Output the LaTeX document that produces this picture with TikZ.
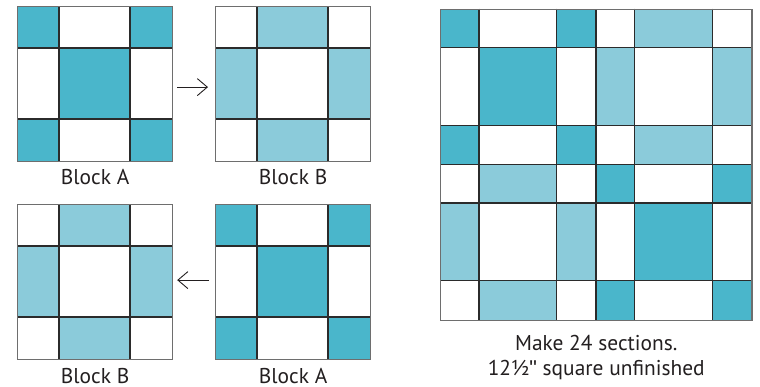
\documentclass[tikz,border=0pt]{standalone}
\usepackage{fontspec}
\setmainfont{PT Sans}[Ligatures=ResetAll]
\usetikzlibrary{arrows.meta}

\definecolor{tealdark}{HTML}{4AB6CB}
\definecolor{teallight}{HTML}{8BCBDA}
\definecolor{seam}{HTML}{2B2B2B}
\definecolor{rim}{HTML}{6E6E6E}
\definecolor{ink}{HTML}{231F20}

\tikzset{
  seamline/.style={draw=seam, line width=1.1bp},
  blockrim/.style={draw=rim, line width=1.2bp},
  lbl/.style={font=\fontsize{21.5}{24}\selectfont, text=ink, inner sep=0pt, anchor=base},
  turnarrow/.style={draw=ink, line width=0.9bp, -{Straight Barb[length=10bp,width=17bp,line width=0.9bp]}},
}

% Nine-patch block: #1 name, (#2,#3) top-left corner, #4 outer strip width,
% #5 middle strip width, #6 corner colour, #7 side colour, #8 centre colour
\newcommand\qblock[8]{%
  \begin{scope}[shift={(#2,#3)}]
    \pgfmathsetmacro\qbA{#4}
    \pgfmathsetmacro\qbB{#4+#5}
    \pgfmathsetmacro\qbC{2*#4+#5}
    % corners
    \fill[#6] (0,0) rectangle (\qbA,\qbA);
    \fill[#6] (\qbB,0) rectangle (\qbC,\qbA);
    \fill[#6] (0,\qbB) rectangle (\qbA,\qbC);
    \fill[#6] (\qbB,\qbB) rectangle (\qbC,\qbC);
    % side strips
    \fill[#7] (\qbA,0) rectangle (\qbB,\qbA);
    \fill[#7] (0,\qbA) rectangle (\qbA,\qbB);
    \fill[#7] (\qbB,\qbA) rectangle (\qbC,\qbB);
    \fill[#7] (\qbA,\qbB) rectangle (\qbB,\qbC);
    % centre square
    \fill[#8] (\qbA,\qbA) rectangle (\qbB,\qbB);
    % seams
    \draw[seamline] (\qbA,0) -- (\qbA,\qbC) (\qbB,0) -- (\qbB,\qbC)
                    (0,\qbA) -- (\qbC,\qbA) (0,\qbB) -- (\qbC,\qbB);
    \node[blockrim, rectangle, inner sep=0pt, minimum size=\qbC bp,
          anchor=north west] (#1) at (0,0) {};
  \end{scope}}

\begin{document}
\begin{tikzpicture}[x=1bp, y=-1bp]
  \fill[white] (0,0) rectangle (760,386);
  \useasboundingbox (0,0) rectangle (760,386);

  % first pair: Block A turned into Block B
  \qblock{blkAtop}{17}{6}{42}{71}{tealdark}{white}{tealdark}
  \qblock{blkBtop}{215}{6}{42}{71}{white}{teallight}{white}
  \node[lbl] (labAtop) at ([yshift=-22.3bp]blkAtop.south) {Block A};
  \node[lbl] (labBtop) at ([yshift=-22.3bp]blkBtop.south) {Block B};
  \draw[turnarrow] ([xshift=4bp,yshift=-3bp]blkAtop.east) -- ([xshift=-7bp,yshift=-3bp]blkBtop.west);

  % second pair: Block A turned into Block B, leftwards
  \qblock{blkBbot}{17}{204}{42}{71}{white}{teallight}{white}
  \qblock{blkAbot}{215}{204}{42}{71}{tealdark}{white}{tealdark}
  \node[lbl] (labBbot) at ([yshift=-23bp]blkBbot.south) {Block B};
  \node[lbl] (labAbot) at ([yshift=-23bp]blkAbot.south) {Block A};
  \draw[turnarrow] ([xshift=-6bp,yshift=2bp]blkAbot.west) -- ([xshift=4bp,yshift=2bp]blkBbot.east);

  % assembled section of four blocks
  \begin{scope}[blockrim/.style={draw=seam, line width=1.1bp}]
    \qblock{secNW}{440}{8.7}{39}{77.7}{tealdark}{white}{tealdark}
    \qblock{secNE}{595.4}{8.7}{39}{77.7}{white}{teallight}{white}
    \qblock{secSW}{440}{164}{39}{77.7}{white}{teallight}{white}
    \qblock{secSE}{595.4}{164}{39}{77.7}{tealdark}{white}{tealdark}
  \end{scope}
  \node[blockrim, rectangle, inner sep=0pt, minimum size=311.3bp,
        anchor=north west] (section) at (440,8.7) {};
  \node[lbl] (makenote) at ([yshift=-29bp]section.south) {Make 24 sections.};
  \node[lbl] (sizenote) at ([yshift=-54bp]section.south) {12½{\fontspec{Liberation Sans}\symbol{34}} square unfinished};
\end{tikzpicture}
\end{document}
